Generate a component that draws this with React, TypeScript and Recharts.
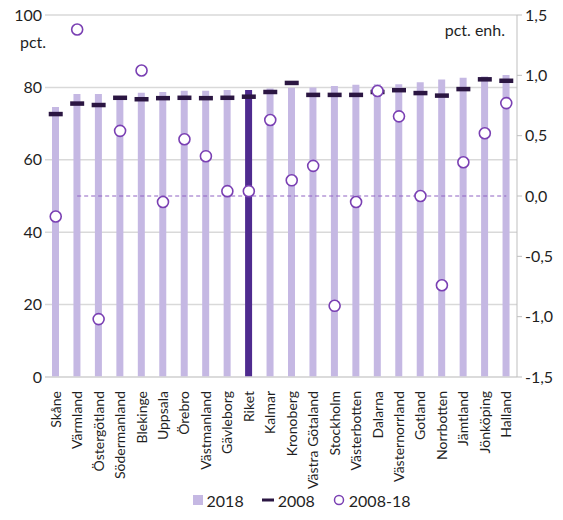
import React from "react";
import {
  ComposedChart,
  Bar,
  Line,
  Cell,
  XAxis,
  YAxis,
  CartesianGrid,
  ReferenceLine,
  Legend,
} from "recharts";

// län, sorted as in the source figure
const regions = [
  "Skåne", "Värmland", "Östergötland", "Södermanland", "Blekinge", "Uppsala",
  "Örebro", "Västmanland", "Gävleborg", "Riket", "Kalmar", "Kronoberg",
  "Västra Götaland", "Stockholm", "Västerbotten", "Dalarna", "Västernorrland",
  "Gotland", "Norrbotten", "Jämtland", "Jönköping", "Halland",
];

// pct.
const values2018 = [
  74.6, 78.2, 78.2, 77.6, 78.5, 78.7, 79.1, 79.1, 79.3, 79.3, 79.7, 79.9,
  80.0, 80.4, 80.7, 80.9, 80.9, 81.4, 82.2, 82.7, 83.0, 83.4,
];
const values2008 = [
  72.7, 75.6, 75.2, 77.2, 76.8, 77.1, 77.2, 77.1, 77.2, 77.5, 78.8, 81.3,
  78.0, 78.0, 78.0, 78.8, 79.3, 78.5, 77.8, 79.6, 82.3, 81.9,
];
// pct. enh. (right axis)
const change = [
  -0.17, 1.38, -1.02, 0.54, 1.04, -0.05, 0.47, 0.33, 0.04, 0.04, 0.63, 0.13,
  0.25, -0.91, -0.05, 0.87, 0.66, 0.0, -0.74, 0.28, 0.52, 0.77,
];

const leftTicks = [0, 20, 40, 60, 80, 100];
const rightTicks = [-1.5, -1, -0.5, 0, 0.5, 1, 1.5];

const LIGHT = "#c5b8e3";
const DARK = "#4f2b8f";
const DASH = "#2b1642";
const RING = "#7a40b3";
const TEXT = "#1f1f1f";
const FONT = "Lato, 'Open Sans', sans-serif";

const data = regions.map((r, i) => ({
  name: r,
  v2018: values2018[i],
  v2008: values2008[i],
  diff: change[i],
}));

const XTick = ({ x, y, payload }: any) => (
  <g transform={`translate(${x},${y + 6})`}>
    <text
      transform="rotate(-90)"
      textAnchor="end"
      dy={5}
      fontSize={14}
      fontFamily={FONT}
      fill={TEXT}
    >
      {payload.value}
    </text>
  </g>
);

const DashMark = ({ cx, cy }: any) =>
  cx == null || cy == null ? null : (
    <rect x={cx - 7} y={cy - 2} width={14} height={4.5} fill={DASH} />
  );

const Ring = ({ cx, cy }: any) =>
  cx == null || cy == null ? null : (
    <circle cx={cx} cy={cy} r={5.5} fill="#fff" stroke={RING} strokeWidth={1.6} />
  );

const LegendBox = () => (
  <div
    style={{
      display: "flex",
      justifyContent: "center",
      alignItems: "center",
      gap: 18,
      height: 40,
      fontFamily: FONT,
      fontSize: 16,
      color: TEXT,
      paddingLeft: 40,
    }}
  >
    <span style={{ display: "flex", alignItems: "center", gap: 4 }}>
      <svg width={10} height={10}>
        <rect width={10} height={10} fill={LIGHT} />
      </svg>
      2018
    </span>
    <span style={{ display: "flex", alignItems: "center", gap: 4 }}>
      <svg width={12} height={10}>
        <rect y={3.5} width={12} height={3} fill={DASH} />
      </svg>
      2008
    </span>
    <span style={{ display: "flex", alignItems: "center", gap: 4 }}>
      <svg width={12} height={12}>
        <circle cx={6} cy={6} r={4.5} fill="#fff" stroke={RING} strokeWidth={1.5} />
      </svg>
      2008-18
    </span>
  </div>
);

export default function App() {
  return (
    <div style={{ position: "absolute", left: 0, top: 0, width: 563, height: 520, background: "#fff" }}>
      <ComposedChart
        width={563}
        height={520}
        data={data}
        margin={{ top: 15, right: 0, bottom: 0, left: 0 }}
      >
        <CartesianGrid yAxisId="left" vertical={false} stroke="#d9d9d9" strokeWidth={1.5} />
        <XAxis
          dataKey="name"
          interval={0}
          height={103}
          tick={<XTick />}
          tickLine={false}
          axisLine={{ stroke: "#d9d9d9", strokeWidth: 1.5 }}
        />
        <YAxis
          yAxisId="left"
          domain={[0, 100]}
          ticks={leftTicks}
          width={45}
          axisLine={false}
          tickLine={false}
          tickSize={0}
          tickMargin={3}
          tick={{ fontSize: 16, fontFamily: FONT, fill: TEXT }}
        />
        <YAxis
          yAxisId="right"
          orientation="right"
          domain={[-1.5, 1.5]}
          ticks={rightTicks}
          width={46}
          axisLine={{ stroke: "#bfbfbf" }}
          tickLine={{ stroke: "#bfbfbf" }}
          tickSize={5}
          tickMargin={3}
          tickFormatter={(v: number) => v.toFixed(1).replace(".", ",")}
          tick={{ fontSize: 16, fontFamily: FONT, fill: TEXT }}
        />
        <Legend verticalAlign="bottom" height={40} content={<LegendBox />} />
        <Bar yAxisId="left" dataKey="v2018" barSize={7} isAnimationActive={false}>
          {data.map((d) => (
            <Cell key={d.name} fill={d.name === "Riket" ? DARK : LIGHT} />
          ))}
        </Bar>
        <ReferenceLine
          yAxisId="right"
          segment={[
            { x: "Värmland", y: 0 },
            { x: "Halland", y: 0 },
          ]}
          stroke="#8f63c2"
          strokeDasharray="4 3"
        />
        <Line
          yAxisId="left"
          dataKey="v2008"
          stroke="none"
          dot={<DashMark />}
          activeDot={false}
          isAnimationActive={false}
        />
        <Line
          yAxisId="right"
          dataKey="diff"
          stroke="none"
          dot={<Ring />}
          activeDot={false}
          isAnimationActive={false}
        />
        <text x={20} y={48} fontSize={16} fontFamily={FONT} fill={TEXT}>
          pct.
        </text>
        <text x={505} y={36} textAnchor="end" fontSize={16} fontFamily={FONT} fill={TEXT}>
          pct. enh.
        </text>
      </ComposedChart>
    </div>
  );
}
